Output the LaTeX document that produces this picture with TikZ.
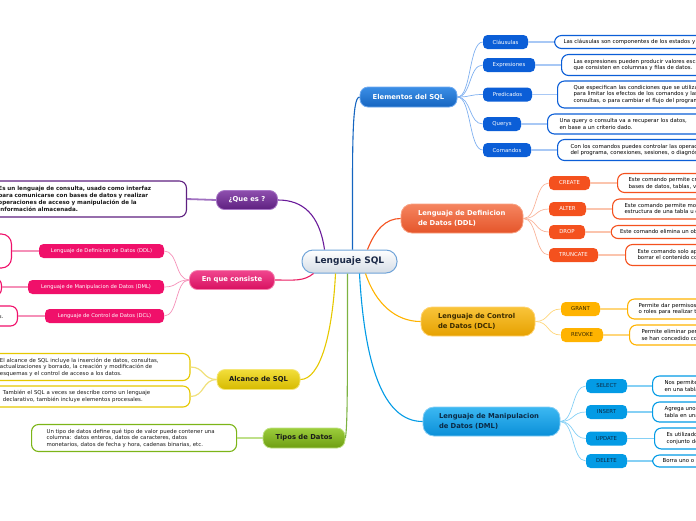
\documentclass[tikz,border=0pt]{standalone}
\usepackage{fontspec}
\setmainfont{DejaVu Sans}
\definecolor{mBlue}{HTML}{1565C0}
\definecolor{kBlue}{HTML}{0B5ED7}
\definecolor{lnBlue}{HTML}{7FB0F0}
\definecolor{lfBlue}{HTML}{A8C8F5}
\definecolor{mOrange}{HTML}{F4511E}
\definecolor{lnOrange}{HTML}{F9B49A}
\definecolor{lfOrange}{HTML}{FBC4AD}
\definecolor{mGold}{HTML}{FFB300}
\definecolor{lnGold}{HTML}{FFD67A}
\definecolor{tGold}{HTML}{3B2B00}
\definecolor{mSky}{HTML}{039BE5}
\definecolor{lnSky}{HTML}{85D0F5}
\definecolor{tSky}{HTML}{0B2A45}
\definecolor{mPurple}{HTML}{6A1B9A}
\definecolor{dPurple}{HTML}{5E2080}
\definecolor{lnPurple}{HTML}{A070C0}
\definecolor{mPink}{HTML}{E91E63}
\definecolor{kPink}{HTML}{F0106A}
\definecolor{lnPink}{HTML}{F590B8}
\definecolor{mYellow}{HTML}{E6C800}
\definecolor{lnYellow}{HTML}{F0E07A}
\definecolor{mGreen}{HTML}{7CB342}
\definecolor{dGreen}{HTML}{7CB518}
\definecolor{lnGreen}{HTML}{BFE08A}
\definecolor{tDark}{HTML}{1A1A1A}
\tikzset{
  mainnode/.style={rounded corners=8pt, inner sep=0pt, line width=0.8pt,
    font=\fontsize{6.8}{9.5}\selectfont\bfseries},
  twoline/.style={mainnode, rounded corners=11pt, align=left, minimum height=29pt},
  kidnode/.style={rounded corners=4.5pt, inner sep=0pt, minimum height=14pt,
    font=\fontsize{5.4}{6.5}\selectfont},
  leafnode/.style={rounded corners=7pt, draw, fill=white, line width=1.1pt,
    inner ysep=0pt, font=\fontsize{5.4}{6.6}\selectfont, align=left},
  boldleaf/.style={leafnode, font=\fontsize{5.6}{7.2}\selectfont\bfseries},
  mainline/.style={line width=1.1pt},
  kidline/.style={line width=0.7pt},
  leafline/.style={line width=1.8pt}
}
\begin{document}
\begin{tikzpicture}[x=1pt,y=-1pt]
\useasboundingbox (0,0) rectangle (696,520);
\clip (0,0) rectangle (696,520);

% ---------- center
\node[mainnode, rounded corners=11pt, minimum width=95pt, minimum height=23pt,
  top color=white, bottom color={rgb,255:red,213;green,221;blue,230},
  draw={rgb,255:red,111;green,163;blue,216}, line width=1pt, text={rgb,255:red,28;green,42;blue,72},
  font=\fontsize{9}{10}\selectfont\bfseries] (sql) at (349.5,261.5) {Lenguaje SQL};

% ---------- main nodes
\node[mainnode, minimum width=97pt, minimum height=20pt, top color={rgb,255:red,59;green,142;blue,230},
  bottom color=mBlue, draw={rgb,255:red,110;green,170;blue,240}, text=white] (elem) at (408.5,97) {Elementos del SQL};
\node[twoline, minimum width=122pt, text width=88pt, inner xsep=17pt,
  top color={rgb,255:red,245;green,133;blue,96}, bottom color={rgb,255:red,229;green,85;blue,42},
  draw={rgb,255:red,248;green,160;blue,128}, text=white] (ddl) at (462,218.5)
  {\mbox{Lenguaje de Definicion}\\\mbox{de Datos (DDL)}};
\node[twoline, minimum width=114pt, text width=80pt, inner xsep=17pt,
  top color={rgb,255:red,249;green,196;blue,58}, bottom color={rgb,255:red,230;green,161;blue,0},
  draw={rgb,255:red,255;green,210;blue,110}, text=tGold] (dcl) at (478,321.5)
  {\mbox{Lenguaje de Control}\\\mbox{de Datos (DCL)}};
\node[twoline, minimum width=137pt, text width=105pt, inner xsep=16pt,
  top color={rgb,255:red,60;green,184;blue,242}, bottom color={rgb,255:red,10;green,143;blue,216},
  draw={rgb,255:red,130;green,205;blue,245}, text=tSky] (dml) at (491.5,421.5)
  {\mbox{Lenguaje de Manipulacion}\\\mbox{de Datos (DML)}};
\node[mainnode, minimum width=61pt, minimum height=19pt, top color={rgb,255:red,142;green,79;blue,174},
  bottom color=dPurple, draw={rgb,255:red,170;green,120;blue,200}, text=white] (que) at (247,200) {¿Que es ?};
\node[mainnode, minimum width=85pt, minimum height=19pt, top color={rgb,255:red,240;green,70;blue,142},
  bottom color={rgb,255:red,216;green,16;blue,96}, draw={rgb,255:red,245;green,130;blue,175}, text=white] (enq) at (232,280) {En que consiste};
\node[mainnode, minimum width=83pt, minimum height=20pt, top color={rgb,255:red,242;green,222;blue,58},
  bottom color={rgb,255:red,214;green,186;blue,0}, draw={rgb,255:red,245;green,230;blue,120}, text=tDark] (alc) at (258.5,379.5) {Alcance de SQL};
\node[mainnode, minimum width=82pt, minimum height=20pt, top color={rgb,255:red,156;green,205;blue,60},
  bottom color={rgb,255:red,110;green,158;blue,18}, draw={rgb,255:red,190;green,225;blue,130}, text=tDark] (tip) at (304,438) {Tipos de Datos};

% ---------- main connectors
\draw[mainline, mBlue] ([xshift=3pt]sql.north) .. controls +(0,-100) and +(-8,0) .. (elem.west);
\draw[mainline, mOrange] ([xshift=18pt]sql.north) .. controls +(8,-20) and +(-15,0) .. (ddl.west);
\draw[mainline, mGold] ([xshift=16pt]sql.south) .. controls +(10,30) and +(-25,0) .. (dcl.west);
\draw[mainline, mSky] ([xshift=10pt]sql.south) .. controls +(5,90) and +(-40,0) .. (dml.west);
\draw[mainline, mPurple] ([xshift=-25pt]sql.north) .. controls +(-5,-35) and +(25,0) .. (que.east);
\draw[mainline, mPink] ([xshift=-36pt]sql.south) .. controls +(-10,8) and +(20,0) .. (enq.east);
\draw[mainline, mYellow] ([xshift=-14pt]sql.south) .. controls +(-3,60) and +(20,0) .. (alc.east);
\draw[mainline, mGreen] ([xshift=-2pt]sql.south) .. controls +(0,120) and +(2,-12) .. (tip.east);

% ---------- Elementos children
\begin{scope}[every node/.append style={kidnode, fill=kBlue, text=white}]
\node[minimum width=45pt] (cla) at (505.5,42) {Cláusulas};
\node[minimum width=52pt] (exp) at (509,65) {Expresiones};
\node[minimum width=49pt] (pre) at (507.5,94.5) {Predicados};
\node[minimum width=38pt] (qry) at (502,124) {Querys};
\node[minimum width=48pt] (com) at (507,150) {Comandos};
\end{scope}
\foreach \k in {cla,exp,pre,qry,com}
  \draw[kidline, lnBlue] (elem.east) .. controls +(14,0) and +(-14,0) .. (\k.west);

\node[leafnode, draw=kBlue, anchor=west, inner xsep=9pt, text width=220pt, minimum height=13pt] (lcla) at (554,42)
  {Las cláusulas son componentes de los estados y las consultas.};
\node[leafnode, draw=kBlue, anchor=west, inner xsep=12pt, text width=220pt, minimum height=21pt] (lexp) at (561,65)
  {Las expresiones pueden producir valores escalares o tablas,\\que consisten en columnas y filas de datos.};
\node[leafnode, draw=kBlue, anchor=west, inner xsep=16pt, text width=220pt, minimum height=27pt] (lpre) at (557,94.5)
  {Que especifican las condiciones que se utilizan\\para limitar los efectos de los comandos y las\\consultas, o para cambiar el flujo del programa.};
\node[leafnode, draw=kBlue, anchor=west, inner xsep=12pt, text width=220pt, minimum height=20pt] (lqry) at (547,124)
  {Una query o consulta va a recuperar los datos,\\en base a un criterio dado.};
\node[leafnode, draw=kBlue, anchor=west, inner xsep=13pt, text width=220pt, minimum height=21pt] (lcom) at (557,150)
  {Con los comandos puedes controlar las operaciones\\del programa, conexiones, sesiones, o diagnósticos.};
\draw[leafline, lfBlue] (cla.east) -- (lcla.west);
\draw[leafline, lfBlue] (exp.east) -- (lexp.west);
\draw[leafline, lfBlue] (pre.east) -- (lpre.west);
\draw[leafline, lfBlue] (qry.east) -- (lqry.west);
\draw[leafline, lfBlue] (com.east) -- (lcom.west);

% ---------- DDL children
\begin{scope}[every node/.append style={kidnode, fill=mOrange, text=white}]
\node[minimum width=41pt] (cre) at (569.5,183) {CREATE};
\node[minimum width=37pt] (alt) at (567.5,209) {ALTER};
\node[minimum width=36pt] (dro) at (567,232) {DROP};
\node[minimum width=49pt] (tru) at (573.5,255) {TRUNCATE};
\end{scope}
\foreach \k in {cre,alt,dro,tru}
  \draw[kidline, lnOrange] (ddl.east) .. controls +(14,0) and +(-14,0) .. (\k.west);
\node[leafnode, draw=mOrange, anchor=west, inner xsep=11pt, text width=200pt, minimum height=19pt] (lcre) at (617,183)
  {Este comando permite crear\\bases de datos, tablas, vistas.};
\node[leafnode, draw=mOrange, anchor=west, inner xsep=12pt, text width=200pt, minimum height=20pt] (lalt) at (612,209)
  {Este comando permite modificar la\\estructura de una tabla u objeto.};
\node[leafnode, draw=mOrange, anchor=west, inner xsep=9pt, text width=200pt, minimum height=13pt] (ldro) at (610.5,232)
  {Este comando elimina un objeto de la base de datos.};
\node[leafnode, draw=mOrange, anchor=west, inner xsep=12pt, text width=200pt, minimum height=21pt] (ltru) at (625,255)
  {Este comando solo aplica a tablas\\borrar el contenido completo.};
\draw[leafline, lfOrange] (cre.east) -- (lcre.west);
\draw[leafline, lfOrange] (alt.east) -- (lalt.west);
\draw[leafline, lfOrange] (dro.east) -- (ldro.west);
\draw[leafline, lfOrange] (tru.east) -- (ltru.west);

% ---------- DCL children
\begin{scope}[every node/.append style={kidnode, fill=mGold, text=tGold}]
\node[minimum width=39pt] (gra) at (580.5,309) {GRANT};
\node[minimum width=42pt] (rev) at (582,335) {REVOKE};
\end{scope}
\foreach \k in {gra,rev}
  \draw[kidline, lnGold] (dcl.east) .. controls +(14,0) and +(-14,0) .. (\k.west);
\node[leafnode, draw=mGold, anchor=west, inner xsep=11pt, text width=200pt, minimum height=20pt] (lgra) at (627,309)
  {Permite dar permisos a usuarios\\o roles para realizar tareas.};
\node[leafnode, draw=mGold, anchor=west, inner xsep=12pt, text width=200pt, minimum height=20pt] (lrev) at (629,335)
  {Permite eliminar permisos que\\se han concedido con GRANT.};
\draw[leafline, lnGold] (gra.east) -- (lgra.west);
\draw[leafline, lnGold] (rev.east) -- (lrev.west);

% ---------- DML children
\begin{scope}[every node/.append style={kidnode, fill=mSky, text=tSky, minimum width=41pt}]
\node (sel) at (606.5,386) {SELECT};
\node (ins) at (606.5,412) {INSERT};
\node (upd) at (606.5,438.5) {UPDATE};
\node (del) at (606.5,461) {DELETE};
\end{scope}
\foreach \k in {sel,ins,upd,del}
  \draw[kidline, lnSky] (dml.east) .. controls +(14,0) and +(-14,0) .. (\k.west);
\node[leafnode, draw=mSky, anchor=west, inner xsep=12pt, text width=200pt, minimum height=20pt] (lsel) at (652,386)
  {Nos permite consultar datos\\en una tabla.};
\node[leafnode, draw=mSky, anchor=west, inner xsep=12pt, text width=200pt, minimum height=20pt] (lins) at (652,412)
  {Agrega uno o más registros a una\\tabla en una base de datos.};
\node[leafnode, draw=mSky, anchor=west, inner xsep=12pt, text width=200pt, minimum height=21pt] (lupd) at (654,438.5)
  {Es utilizado para modificar un\\conjunto de registros.};
\node[leafnode, draw=mSky, anchor=west, inner xsep=10pt, text width=200pt, minimum height=12pt] (ldel) at (652,461)
  {Borra uno o más registros de una tabla.};
\draw[leafline, lnSky] (sel.east) -- (lsel.west);
\draw[leafline, lnSky] (ins.east) -- (lins.west);
\draw[leafline, lnSky] (upd.east) -- (lupd.west);
\draw[leafline, lnSky] (del.east) -- (ldel.west);

% ---------- Que es
\node[boldleaf, draw=dPurple, anchor=east, inner xsep=12pt, text width=176pt, minimum height=36pt, text=tDark] (lque) at (187,199)
  {Es un lenguaje de consulta, usado como interfaz\\para comunicarse con bases de datos y realizar\\operaciones de acceso y manipulación de la\\información almacenada.};
\draw[leafline, lnPurple] (que.west) -- (lque.east);

% ---------- En que consiste
\begin{scope}[every node/.append style={kidnode, fill=kPink, text=white, font=\fontsize{5.2}{6}\selectfont}]
\node[minimum width=125pt] (pddl) at (101.5,251) {Lenguaje de Definicion de Datos (DDL)};
\node[minimum width=136pt] (pdml) at (96,287) {Lenguaje de Manipulacion de Datos (DML)};
\node[minimum width=119pt] (pdcl) at (104.5,316) {Lenguaje de Control de Datos (DCL)};
\end{scope}
\foreach \k in {pddl,pdml,pdcl}
  \draw[kidline, lnPink] (enq.west) .. controls +(-14,0) and +(14,0) .. (\k.east);
\node[leafnode, draw=kPink, anchor=east, minimum width=80pt, minimum height=34pt, rounded corners=10pt] (lpddl) at (12,251) {};
\node[leafnode, draw=kPink, anchor=east, minimum width=80pt, minimum height=18pt] (lpdml) at (2,287) {};
\node[leafnode, draw=kPink, anchor=east, inner xsep=14pt, text width=60pt, align=right, minimum height=20pt, text=tDark] (lpdcl) at (18,316) {a los datos.};
\draw[leafline, lnPink] (pddl.west) -- (lpddl.east);
\draw[leafline, lnPink] (pdml.west) -- (lpdml.east);
\draw[leafline, lnPink] (pdcl.west) -- (lpdcl.east);

% ---------- Alcance
\node[leafnode, draw=mYellow, anchor=east, inner xsep=12pt, text width=178pt, minimum height=27pt, text=tDark] (lalc1) at (190.5,367)
  {El alcance de SQL incluye la inserción de datos, consultas,\\actualizaciones y borrado, la creación y modificación de\\esquemas y el control de acceso a los datos.};
\node[leafnode, draw=mYellow, anchor=east, inner xsep=12pt, text width=175pt, minimum height=21pt, text=tDark] (lalc2) at (190.5,396.5)
  {También el SQL a veces se describe como un lenguaje\\declarativo, también incluye elementos procesales.};
\draw[kidline, lnYellow, line width=1.2pt] (alc.west) .. controls +(-14,0) and +(14,0) .. (lalc1.east);
\draw[kidline, lnYellow, line width=1.2pt] (alc.west) .. controls +(-14,0) and +(14,0) .. (lalc2.east);

% ---------- Tipos
\node[leafnode, draw=dGreen, anchor=west, inner xsep=15pt, text width=175pt, minimum height=27pt, text=tDark] (ltip) at (31,438)
  {Un tipo de datos define qué tipo de valor puede contener una\\columna: datos enteros, datos de caracteres, datos\\monetarios, datos de fecha y hora, cadenas binarias, etc.};
\draw[leafline, lnGreen] (tip.west) -- (ltip.east);
\end{tikzpicture}
\end{document}
